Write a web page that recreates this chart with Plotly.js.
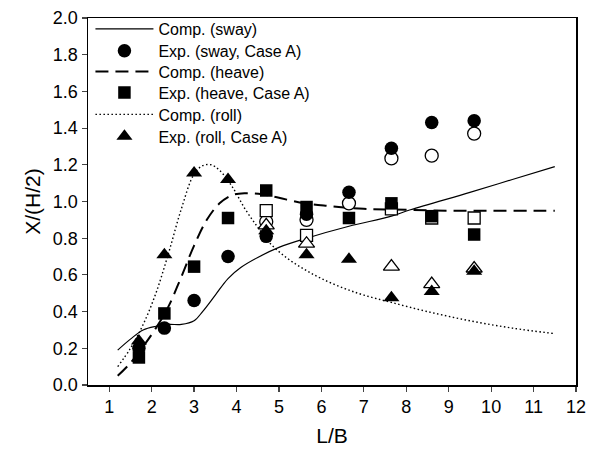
<!DOCTYPE html>
<html><head><meta charset="utf-8">
<script src="https://cdn.plot.ly/plotly-3.0.1.min.js"></script>
<style>html,body{margin:0;padding:0;background:#fff}#c{width:593px;height:453px}</style>
</head><body><div id="c"></div>
<script>
// Computed curves
const swayX = [1.2, 1.5, 1.8, 2.1, 2.4, 2.7, 3.0, 3.2, 3.5, 3.8, 4.1, 4.5, 5.0, 5.65, 6.65, 7.65, 8.1, 9.5, 10.5, 11.5];
const swayY = [0.19, 0.25, 0.30, 0.32, 0.33, 0.33, 0.35, 0.40, 0.49, 0.58, 0.64, 0.695, 0.75, 0.80, 0.865, 0.92, 0.955, 1.05, 1.12, 1.19];
const heaveX = [1.2, 1.5, 1.8, 2.1, 2.4, 2.7, 3.0, 3.3, 3.6, 3.9, 4.2, 4.6, 5.0, 5.6, 6.2, 7.0, 8.0, 9.0, 10.0, 11.0, 11.5];
const heaveY = [0.05, 0.12, 0.21, 0.31, 0.43, 0.59, 0.76, 0.90, 0.99, 1.035, 1.045, 1.04, 1.02, 0.99, 0.975, 0.96, 0.955, 0.95, 0.95, 0.95, 0.95];
const rollX = [1.2, 1.5, 1.8, 2.1, 2.4, 2.7, 3.0, 3.2, 3.4, 3.6, 3.9, 4.2, 4.5, 4.8, 5.2, 5.6, 6.0, 6.5, 7.0, 7.65, 8.5, 9.5, 10.5, 11.5];
const rollY = [0.10, 0.20, 0.33, 0.50, 0.72, 0.96, 1.15, 1.195, 1.20, 1.17, 1.08, 0.96, 0.86, 0.77, 0.69, 0.63, 0.58, 0.53, 0.49, 0.45, 0.40, 0.35, 0.31, 0.28];
// Experimental, Case A (filled)
const expX = [1.7, 2.3, 3.0, 3.8, 4.7, 5.65, 6.65, 7.65, 8.6, 9.6];
const expSway = [0.20, 0.31, 0.46, 0.70, 0.81, 0.93, 1.05, 1.29, 1.43, 1.44];
const expHeave = [0.15, 0.39, 0.645, 0.91, 1.06, 0.97, 0.91, 0.99, 0.92, 0.82];
const expRoll = [0.24, 0.71, 1.155, 1.12, 0.84, 0.71, 0.685, 0.475, 0.51, 0.62];
// Experimental, other case (open)
const openSwayX = [4.7, 5.65, 6.65, 7.65, 8.6, 9.6];
const openSway = [0.89, 0.90, 0.99, 1.235, 1.25, 1.37];
const openHeaveX = [4.7, 5.65, 7.65, 8.6, 9.6];
const openHeave = [0.95, 0.815, 0.96, 0.91, 0.91];
const openRollX = [4.7, 5.65, 7.65, 8.6, 9.6];
const openRoll = [0.87, 0.77, 0.645, 0.55, 0.635];

const xTicks = [1,2,3,4,5,6,7,8,9,10,11,12];

const F = 'Arial, "Liberation Sans", sans-serif';
const openM = (sym, size) => ({symbol: sym, size: size, color: '#fff', line: {color: '#000', width: 1.3}});

const traces = [
  {x: swayX, y: swayY, mode: 'lines', name: 'Comp. (sway)', line: {color: '#000', width: 1.2, shape: 'spline'}, legend: 'legend'},
  {x: heaveX, y: heaveY, mode: 'lines', name: 'Comp. (heave)', line: {color: '#000', width: 2, dash: '13px,7px', shape: 'spline'}, legend: 'legend3'},
  {x: rollX, y: rollY, mode: 'lines', name: 'Comp. (roll)', line: {color: '#000', width: 1.4, dash: '1.5px,2.5px', shape: 'spline'}, legend: 'legend5'},
  {x: openSwayX, y: openSway, mode: 'markers', marker: openM('circle', 13), showlegend: false},
  {x: openHeaveX, y: openHeave, mode: 'markers', marker: openM('square', 12), showlegend: false},
  {x: openRollX, y: openRoll, mode: 'markers', marker: openM('triangle-up', 14), showlegend: false},
  {x: expX, y: expSway, mode: 'markers', name: 'Exp. (sway, Case A)', marker: {symbol: 'circle', size: 13.5, color: '#000'}, legend: 'legend2'},
  {x: expX, y: expHeave, mode: 'markers', name: 'Exp. (heave, Case A)', marker: {symbol: 'square', size: 12.5, color: '#000'}, legend: 'legend4'},
  {x: expX, y: expRoll, mode: 'markers', name: 'Exp. (roll, Case A)', marker: {symbol: 'triangle-up', size: 14, color: '#000'}, legend: 'legend6'}
];

const legRows = [0.970, 0.9106, 0.8537, 0.7967, 0.7371, 0.6775];
const legBase = (y) => ({x: 0.005, y: y, xanchor: 'left', yanchor: 'middle', bgcolor: 'rgba(0,0,0,0)',
  font: {family: F, size: 16, color: '#000'}, itemwidth: 58});

const layout = {
  width: 593, height: 453,
  margin: {l: 88, r: 17, t: 16, b: 68},
  paper_bgcolor: '#fff', plot_bgcolor: '#fff',
  font: {family: F, color: '#000', size: 16},
  showlegend: true,
  legend: legBase(legRows[0]), legend2: legBase(legRows[1]), legend3: legBase(legRows[2]),
  legend4: legBase(legRows[3]), legend5: legBase(legRows[4]), legend6: legBase(legRows[5]),
  xaxis: {range: [0.5, 12], tickvals: xTicks, ticks: 'outside', ticklen: 5, tickwidth: 1.2,
          showline: true, linewidth: 1.5, linecolor: '#000', mirror: true, showgrid: false, zeroline: false,
          tickfont: {family: F, size: 18}, title: {text: 'L/B', font: {family: F, size: 21}, standoff: 12}},
  yaxis: {range: [0, 2], dtick: 0.2, tick0: 0, tickformat: '.1f', ticks: 'outside', ticklen: 5, tickwidth: 1.2,
          showline: true, linewidth: 1.5, linecolor: '#000', mirror: true, showgrid: false, zeroline: false,
          tickfont: {family: F, size: 18}, title: {text: 'X/(H/2)', font: {family: F, size: 21}, standoff: 6}}
};
Plotly.newPlot('c', traces, layout, {displayModeBar: false, staticPlot: true});
</script></body></html>
